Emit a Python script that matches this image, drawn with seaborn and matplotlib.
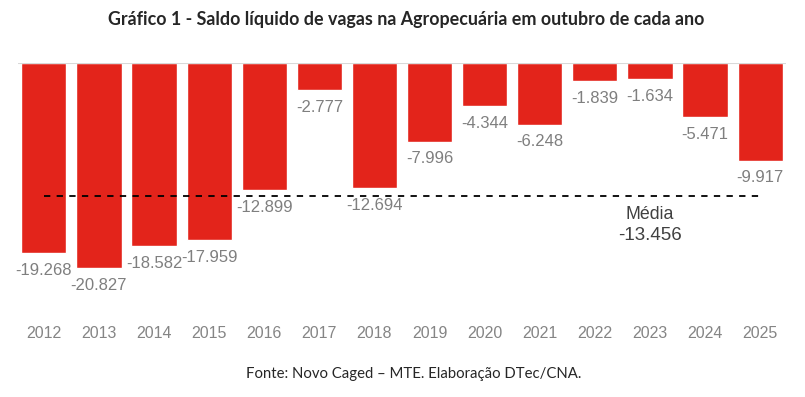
import matplotlib
matplotlib.use("Agg")
import matplotlib.pyplot as plt
import seaborn as sns
import pandas as pd

# Dados: saldo líquido de vagas na Agropecuária em outubro
anos = ["2012", "2013", "2014", "2015", "2016", "2017", "2018",
        "2019", "2020", "2021", "2022", "2023", "2024", "2025"]
saldo = [-19268, -20827, -18582, -17959, -12899, -2777, -12694,
         -7996, -4344, -6248, -1839, -1634, -5471, -9917]
media = -13456

df = pd.DataFrame({"ano": anos, "saldo": saldo})

sns.set_theme(style="white")
plt.rcParams["font.family"] = ["Liberation Sans", "DejaVu Sans"]

def fmt(v):
    return f"{v:,}".replace(",", ".")

fig = plt.figure(figsize=(8.05, 3.97), dpi=100)
ax = fig.add_axes([18 / 805, 1 - 300 / 397, 768 / 805, 237 / 397])

sns.barplot(data=df, x="ano", y="saldo", color="#E3241B", width=0.82,
            saturation=1, ax=ax)

ax.set_xlim(-0.47, 13.47)
ax.set_ylim(-24061, 0)

# linha do zero
ax.axhline(0, color="#d9d9d9", linewidth=1.5, zorder=5)

# média
ax.plot([0, len(anos) - 1], [media, media], color="black", linestyle=(0, (3.5, 3.5)),
        linewidth=1.3, zorder=4)
ax.text(11, -15350, "Média", ha="center", va="center", fontsize=12.8, color="#404040")
ax.text(11, -17550, fmt(media), ha="center", va="center", fontsize=13.5, color="#404040")

ax.bar_label(ax.containers[0], labels=[fmt(v) for v in saldo], padding=7,
             fontsize=12, color="#7f7f7f")

ax.set_xlabel("")
ax.set_ylabel("")
ax.set_yticks([])
ax.tick_params(axis="x", length=0, pad=19, labelsize=11.5, labelcolor="#858585")
for s in ax.spines.values():
    s.set_visible(False)

fig.text(0.504, 1 - 19 / 397, "Gráfico 1 - Saldo líquido de vagas na Agropecuária em outubro de cada ano",
         ha="center", va="center", fontsize=12.9, fontweight="bold", family=["Lato", "DejaVu Sans"])
fig.text(0.514, 1 - 374 / 397, "Fonte: Novo Caged – MTE. Elaboração DTec/CNA.",
         ha="center", va="center", fontsize=10.7, family=["Lato", "DejaVu Sans"])

fig.savefig("out.png", dpi=100)
